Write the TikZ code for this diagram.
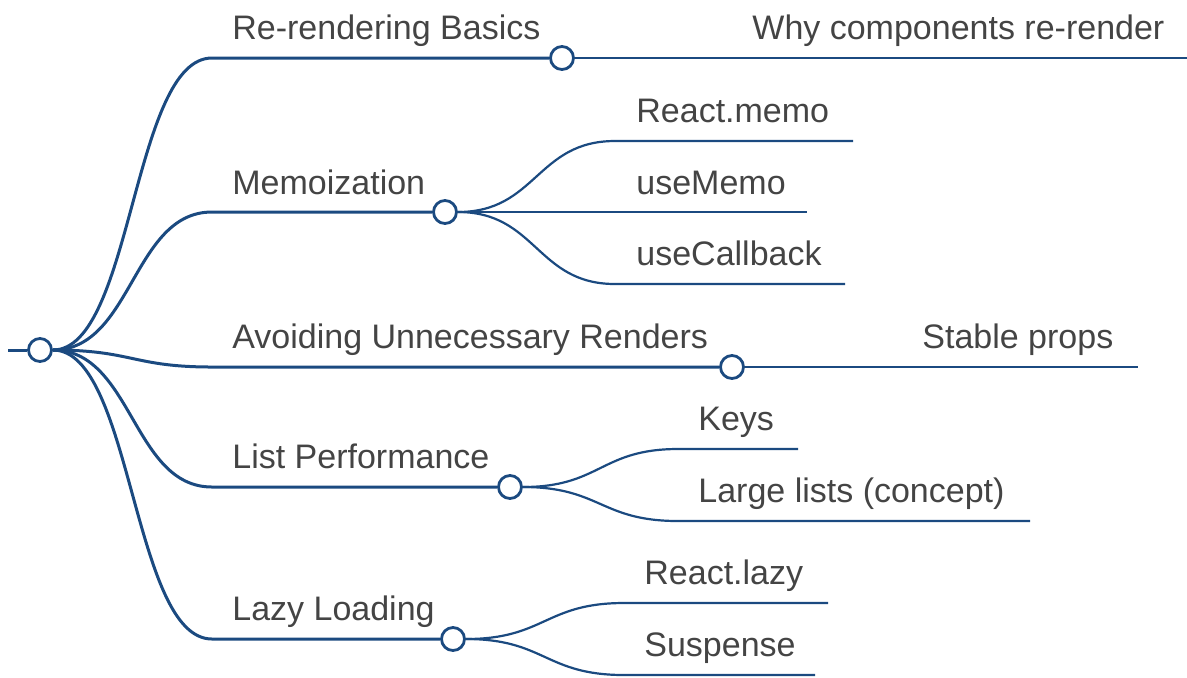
\documentclass[tikz,border=0pt]{standalone}
\usepackage{fontspec}
\setmainfont{Liberation Sans}
\usetikzlibrary{positioning, calc, backgrounds}
\definecolor{mapblue}{HTML}{1B4A80}
\definecolor{labelgray}{HTML}{444444}

\begin{document}
\begin{tikzpicture}[x=0.5pt, y=-0.5pt,
  hub/.style={circle, draw=mapblue, line width=1.4pt, fill=white,
    minimum size=11.5pt, inner sep=0pt},
  topic/.style={anchor=base west, inner sep=0pt, text=labelgray,
    font=\fontsize{17}{20}\selectfont},
  trunk/.style={draw=mapblue, line width=1.5pt},
  twig/.style={draw=mapblue, line width=1.1pt},
  branch/.style={to path={let \p1=(\tikztostart), \p2=(\tikztotarget) in
    .. controls ({(\x1+\x2)/2},\y1) and ({(\x1+\x2)/2},\y2) .. (\tikztotarget)}}
]
  \useasboundingbox (0,0) rectangle (1187,677);

  % root
  \coordinate (stub) at (8,350);
  \node[hub] (root) at (40,350) {};

  % first level
  \node[topic] (basics) at (232,39) {Re-rendering Basics};
  \coordinate (basics-s) at (212,58);
  \node[hub] (basics-o) at (562,58) {};

  \node[topic] (memo) at (232,194) {Memoization};
  \coordinate (memo-s) at (212,212);
  \node[hub] (memo-o) at (445,212) {};

  \node[topic] (avoid) at (232,348) {Avoiding Unnecessary Renders};
  \coordinate (avoid-s) at (212,367);
  \node[hub] (avoid-o) at (732,367) {};

  \node[topic] (lists) at (232,468) {List Performance};
  \coordinate (lists-s) at (212,487);
  \node[hub] (lists-o) at (510,487) {};

  \node[topic] (lazy) at (232,620) {Lazy Loading};
  \coordinate (lazy-s) at (212,639);
  \node[hub] (lazy-o) at (453,639) {};

  % leaves
  \node[topic] (why) at (752,39) {Why components re-render};
  \coordinate (why-s) at (732,58);
  \coordinate (why-e) at (1187,58);

  \node[topic] (reactmemo) at (636,122) {React.memo};
  \coordinate (reactmemo-s) at (615,141);
  \coordinate (reactmemo-e) at (853,141);

  \node[topic] (usememo) at (636,194) {useMemo};
  \coordinate (usememo-s) at (615,212);
  \coordinate (usememo-e) at (807,212);

  \node[topic] (usecallback) at (636,265) {useCallback};
  \coordinate (usecallback-s) at (615,284);
  \coordinate (usecallback-e) at (845,284);

  \node[topic] (stable) at (922,348) {Stable props};
  \coordinate (stable-s) at (900,367);
  \coordinate (stable-e) at (1138,367);

  \node[topic] (keys) at (698,430) {Keys};
  \coordinate (keys-s) at (678,449);
  \coordinate (keys-e) at (798,449);

  \node[topic] (largelists) at (698,502) {Large lists (concept)};
  \coordinate (largelists-s) at (678,521);
  \coordinate (largelists-e) at (1030,521);

  \node[topic] (reactlazy) at (644,584) {React.lazy};
  \coordinate (reactlazy-s) at (624,603);
  \coordinate (reactlazy-e) at (828,603);

  \node[topic] (suspense) at (644,656) {Suspense};
  \coordinate (suspense-s) at (624,675);
  \coordinate (suspense-e) at (815,675);

  % connectors
  \begin{scope}[on background layer]
    \draw[trunk] (stub) -- (root);
    \foreach \b in {basics,memo,avoid,lists,lazy}
      \draw[trunk] (root.east) to[branch] (\b-s) -- (\b-o);
    \foreach \u/\v in {basics/why, memo/reactmemo, memo/usememo, memo/usecallback,
        avoid/stable, lists/keys, lists/largelists, lazy/reactlazy, lazy/suspense}
      \draw[twig] (\u-o.east) to[branch] (\v-s) -- (\v-e);
  \end{scope}
\end{tikzpicture}
\end{document}
